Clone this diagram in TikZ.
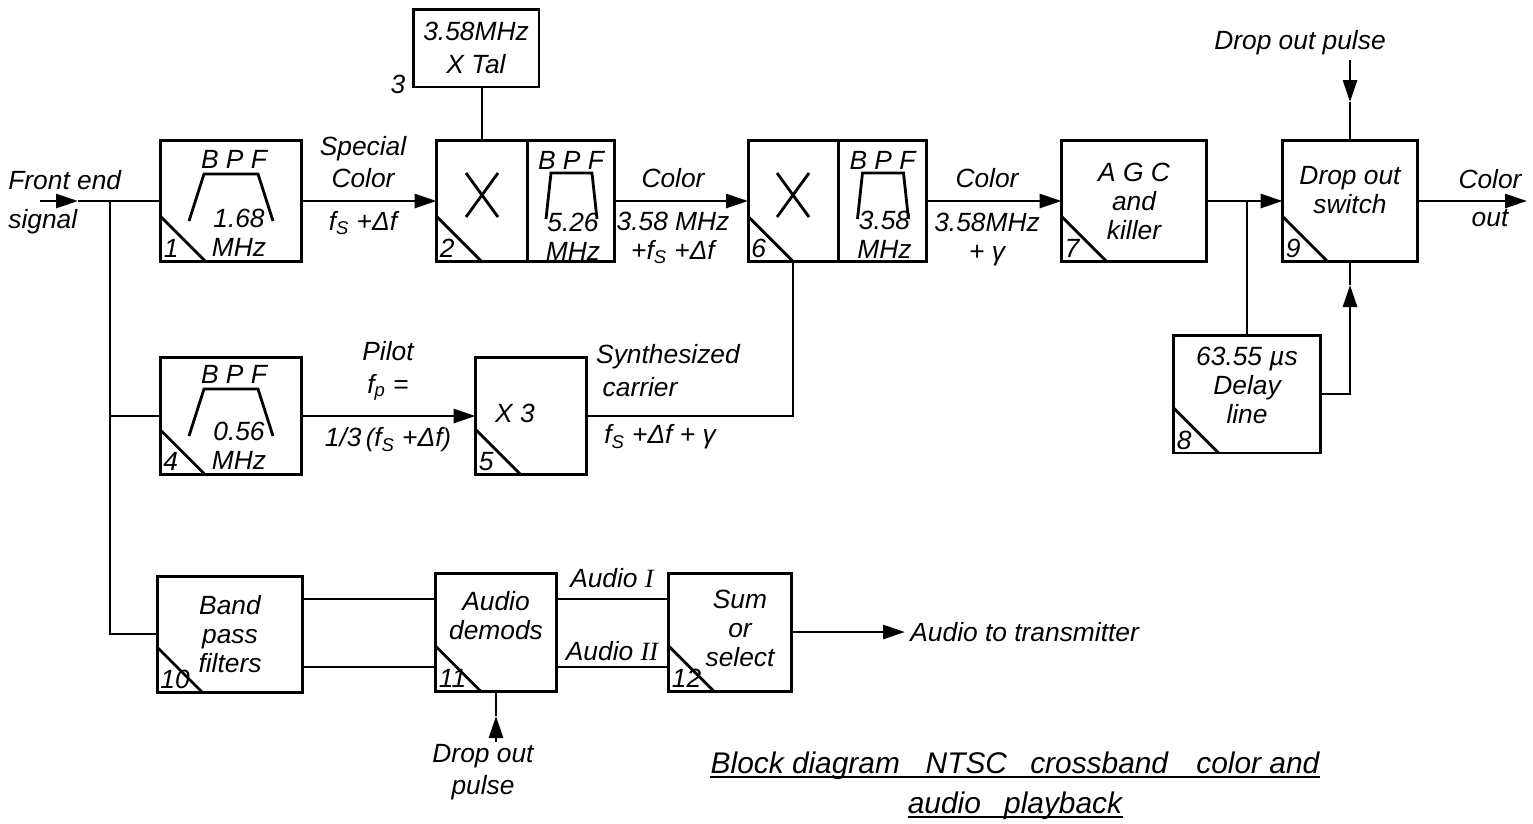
\documentclass[tikz,border=0pt]{standalone}
\usepackage{fontspec}
\setmainfont{Liberation Sans}
\newfontfamily\romfont{Liberation Serif}
\usetikzlibrary{positioning, arrows.meta, calc}

\begin{document}
\begin{tikzpicture}[
    x=0.02cm, y=-0.02cm,
    blk/.style={draw, line width=1.7pt, inner sep=0pt, outer sep=0pt, align=center,
                font=\fontsize{15}{16.5}\selectfont\itshape},
    top/.style={blk, minimum height=2.42cm},
    lbl/.style={inner sep=0pt, align=center, font=\fontsize{15}{16.5}\selectfont\itshape},
    num/.style={inner sep=0pt, anchor=base west, font=\fontsize{15}{15}\selectfont\itshape},
    ttl/.style={inner sep=0pt, anchor=base, font=\fontsize{17}{18}\selectfont\itshape},
    wire/.style={line width=1.6pt},
    uline/.style={line width=1.2pt},
    arr/.style={wire, -{Triangle[length=0.44cm, width=0.28cm]}},
    bpfwide/.pic={\draw[wire] (-42,20) -- (-27,-27) -- (27,-27) -- (42,20);},
    bpfnarrow/.pic={\draw[wire] (-25,18) -- (-20,-28) -- (21,-28) -- (26,18);},
    mixx/.pic={\draw[wire] (-16,-22) -- (16,22) (-16,22) -- (16,-22);},
]
\useasboundingbox (0,0) rectangle (1533,823);

% top row
\node[top, minimum width=2.82cm] (bpf1) at (231,201) {};
\node[top, minimum width=1.82cm] (mix2) at (482,201) {};
\node[top, minimum width=1.74cm, right=0pt of mix2] (bpf2) {};
\node[blk, minimum width=2.52cm, minimum height=1.56cm] (xtal) at (476,48) {3.58MHz\\[2pt]X Tal};
\node[top, minimum width=1.80cm] (mix6) at (793,201) {};
\node[top, minimum width=1.78cm, right=0pt of mix6] (bpf6) {};
\node[top, minimum width=2.9cm] (agc) at (1134,201) {A G C\\and\\killer};
\node[top, minimum width=2.7cm] (dosw) at (1350,201) {};
\node[blk, minimum width=2.94cm, minimum height=2.36cm] (dly) at (1247,394) {};

% middle row
\node[blk, minimum width=2.84cm, minimum height=2.34cm] (bpf4) at (231,416) {};
\node[blk, minimum width=2.22cm, minimum height=2.34cm] (mul5) at (531,416) {};

% bottom row
\node[blk, minimum width=2.92cm, minimum height=2.32cm] (bpf10) at (230,634) {Band\\pass\\filters};
\node[blk, minimum width=2.42cm, minimum height=2.36cm] (dem11) at (496,632) {};
\node[blk, minimum width=2.46cm, minimum height=2.36cm] (sum12) at (730,632) {};

% symbols in the blocks
\pic at (bpf1) {bpfwide};
\pic at (bpf4) {bpfwide};
\pic at (bpf2) {bpfnarrow};
\pic at (bpf6) {bpfnarrow};
\pic at ($(mix2)+(0,-6)$) {mixx};
\pic at ($(mix6)+(0,-6)$) {mixx};

% block texts
\node[lbl] (bpf1a) at ($(bpf1)+(3,-42)$) {B P F};
\node[lbl] (bpf1b) at ($(bpf1)+(8,32)$) {1.68\\MHz};
\node[lbl] (bpf4a) at ($(bpf4)+(3,-42)$) {B P F};
\node[lbl] (bpf4b) at ($(bpf4)+(8,30)$) {0.56\\MHz};
\node[lbl] (bpf2a) at ($(bpf2)+(0,-41)$) {B P F};
\node[lbl] (bpf2b) at ($(bpf2)+(2,36)$) {5.26\\MHz};
\node[lbl] (bpf6a) at ($(bpf6)+(0,-41)$) {B P F};
\node[lbl] (bpf6b) at ($(bpf6)+(2,34)$) {3.58\\MHz};
\node[lbl] (doswt) at ($(dosw)+(0,-11)$) {Drop out\\switch};
\node[lbl] (dlyt) at ($(dly)+(0,-9)$) {63.55 µs\\Delay\\line};
\node[lbl] (mul5t) at ($(mul5)+(-16,-3)$) {X 3};
\node[lbl] (dem11t) at ($(dem11)+(0,-16)$) {Audio\\demods};
\node[lbl] (sum12t) at ($(sum12)+(10,-4)$) {Sum\\or\\select};
\node[lbl] (xtaln) at (398,84) {3};

% corner numbers
\foreach \b/\n in {bpf1/1, mix2/2, bpf4/4, mul5/5, mix6/6, agc/7, dly/8, dosw/9,
                   bpf10/10, dem11/11, sum12/12} {
    \draw[wire] ($(\b.south west)+(0,-45)$) -- ($(\b.south west)+(45,0)$);
    \node[num] (n\n) at ($(\b.south west)+(3,-4)$) {\n};
}

% front end and taps
\coordinate (fe) at (40,201);
\coordinate (fem) at (78,201);
\coordinate (tap) at (110,201);
\draw[arr] (fe) -- (fem);
\draw[wire] (fem) -- (bpf1.west);
\draw[wire] (tap) |- (bpf10.west);
\draw[wire] (tap |- bpf4.west) -- (bpf4.west);

% colour path
\draw[arr] (bpf1.east) -- (mix2.west);
\draw[wire] (mix2.north) -- (mix2.north |- xtal.south);
\draw[arr] (bpf2.east) -- (mix6.west);
\draw[arr] (bpf6.east) -- (agc.west);
\draw[arr] (agc.east) -- (dosw.west);
\draw[wire] (dly.north |- agc.east) -- (dly.north);
\coordinate (dp1) at (1350,60);
\coordinate (dp1m) at (1350,102);
\draw[arr] (dp1) -- (dp1m);
\draw[wire] (dp1m) -- (dosw.north);
\coordinate (dlm) at (1350,285);
\draw[arr] (dly.east) -| (dlm);
\draw[wire] (dlm) -- (dosw.south);
\coordinate (cout) at (1527,201);
\draw[arr] (dosw.east) -- (cout);

% pilot path
\draw[arr] (bpf4.east) -- (mul5.west);
\draw[wire] (mul5.east) -| (mix6.south);

% audio path
\coordinate (ya) at (0,599);
\coordinate (yb) at (0,667);
\draw[wire] (bpf10.east |- ya) -- (dem11.west |- ya);
\draw[wire] (bpf10.east |- yb) -- (dem11.west |- yb);
\draw[wire] (dem11.east |- ya) -- (sum12.west |- ya);
\draw[wire] (dem11.east |- yb) -- (sum12.west |- yb);
\coordinate (aud) at (905,632);
\draw[arr] (sum12.east) -- (aud);
\coordinate (dp2) at (496,742);
\coordinate (dp2m) at (496,716);
\draw[arr] (dp2) -- (dp2m);
\draw[wire] (dp2m) -- (dem11.south);

% signal labels
\node[lbl, anchor=west] (fet) at (8,180) {Front end};
\node[lbl, anchor=west] (sigt) at (8,222) {signal};
\node[lbl] (spc) at (363,162) {Special\\[2pt]Color};
\node[lbl] (spf) at (363,223) {f\textsubscript{S} +Δf};
\node[lbl] (col1) at (673,178) {Color};
\node[lbl] (col1f) at (673,238) {3.58 MHz\\+f\textsubscript{S} +Δf};
\node[lbl] (col2) at (987,178) {Color};
\node[lbl] (col2f) at (987,240) {3.58MHz\\+ γ};
\node[lbl] (colo) at (1490,198) {Color\\[5pt]out};
\node[lbl] (dpt1) at (1300,43) {Drop out pulse};
\node[lbl] (pil) at (388,371) {Pilot\\[2pt]f\textsubscript{p} =};
\node[lbl] (pilf) at (388,440) {1/3\,{\Large(}f\textsubscript{S} +Δf{\Large)}};
\node[lbl] (syn) at (668,357) {Synthesized};
\node[lbl] (car) at (640,387) {carrier};
\node[lbl] (synf) at (660,437) {f\textsubscript{S} +Δf + γ};
\node[lbl] (au1) at (612,578) {Audio {\romfont I}};
\node[lbl] (au2) at (612,651) {Audio {\romfont II}};
\node[lbl, anchor=west] (audt) at (910,632) {Audio to transmitter};
\node[lbl] (dpt2) at (483,772) {Drop out\\[2pt]pulse};

% title
\node[ttl] (ttl1) at (1015,773) {Block diagram\hspace{0.35cm} NTSC\hspace{0.3cm} crossband\hspace{0.4cm} color and};
\node[ttl] (ttl2) at (1015,813) {audio\hspace{0.3cm} playback};
\draw[uline] ($(ttl1.base west)+(0,4)$) -- ($(ttl1.base east)+(0,4)$);
\draw[uline] ($(ttl2.base west)+(0,4)$) -- ($(ttl2.base east)+(0,4)$);
\end{tikzpicture}
\end{document}
